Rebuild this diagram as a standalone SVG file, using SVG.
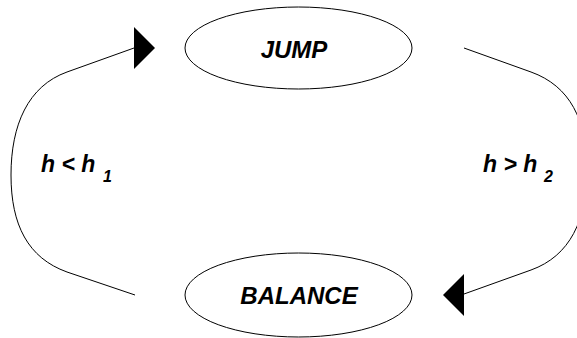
<svg xmlns="http://www.w3.org/2000/svg" xmlns:xlink="http://www.w3.org/1999/xlink" width="577" height="338" viewBox="0 0 577 338">
  <style>
    .state { fill: #ffffff; stroke: #000000; stroke-width: 1; }
    .label { font-family: "Liberation Sans", Arial, sans-serif; font-weight: bold; font-style: italic; fill: #000000; }
    .name { font-size: 24px; text-anchor: middle; }
    .cond { font-size: 23px; }
    .sub { font-size: 16px; }
    .edge { fill: none; stroke: #000000; stroke-width: 1; }
    .head { fill: #000000; stroke: none; }
  </style>
  <defs>
    <!-- filled triangle pointing right, tip at origin -->
    <polygon id="arrowhead" points="-21,-21 -21,21 0,0"/>
  </defs>
  <rect width="577" height="338" fill="#ffffff"/>

  <g id="connectors">
    <!-- BALANCE -> JUMP (left loop) -->
    <path class="edge" d="M135,295 L67,272 C28,258 11,225 11,175 C11,125 28,86 67,72 L134,48"/>
    <use class="head" xlink:href="#arrowhead" transform="translate(155,48)"/>
    <!-- JUMP -> BALANCE (right loop) -->
    <path class="edge" d="M464,48 L531,72 C570,86 587,120 587,170 C587,220 570,256 531,270 L464,294"/>
    <use class="head" xlink:href="#arrowhead" transform="translate(443,295) rotate(180)"/>
  </g>

  <g id="jump">
    <ellipse class="state" cx="298.5" cy="48" rx="113.5" ry="41"/>
    <text class="label name" x="294" y="58">JUMP</text>
  </g>

  <g id="balance">
    <ellipse class="state" cx="298.5" cy="295" rx="113.5" ry="42"/>
    <text class="label name" x="299" y="304">BALANCE</text>
  </g>

  <g id="cond-left">
    <text class="label cond" x="41" y="172">h &lt; h<tspan class="sub" x="103" y="182">1</tspan></text>
  </g>

  <g id="cond-right">
    <text class="label cond" x="483" y="172">h &gt; h<tspan class="sub" x="544" y="182">2</tspan></text>
  </g>
</svg>
